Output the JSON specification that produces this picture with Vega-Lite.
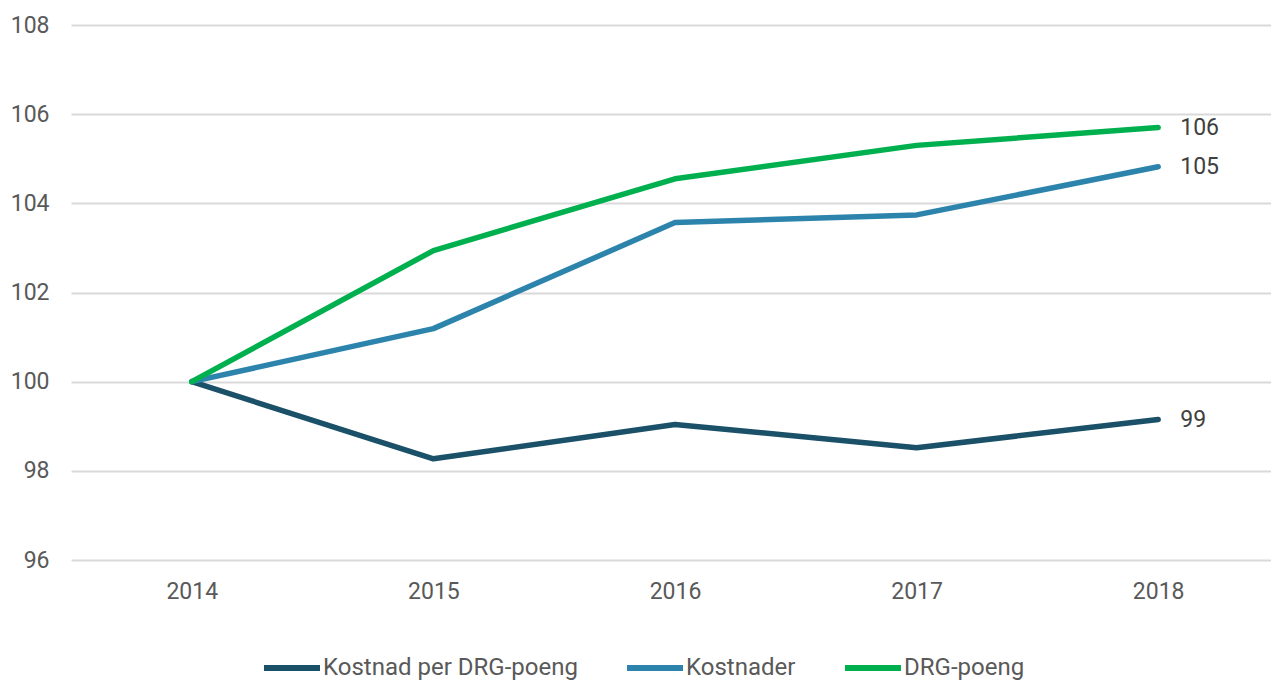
{
  "$schema": "https://vega.github.io/schema/vega-lite/v6.json",
  "width": 1208,
  "height": 535,
  "autosize": {"type": "none"},
  "padding": {"left": 71, "top": 25, "right": 0, "bottom": 120},
  "background": "white",
  "config": {
    "view": {"stroke": null},
    "font": "Roboto",
    "axis": {"labelFont": "Roboto", "labelColor": "#595959", "labelFontSize": 23, "domain": false, "ticks": false, "title": null, "gridColor": "#d9d9d9", "gridWidth": 2}
  },
  "data": {
    "values": [
      {"year": "2014", "series": "Kostnad per DRG-poeng", "value": 100},
      {"year": "2015", "series": "Kostnad per DRG-poeng", "value": 98.27},
      {"year": "2016", "series": "Kostnad per DRG-poeng", "value": 99.04},
      {"year": "2017", "series": "Kostnad per DRG-poeng", "value": 98.52},
      {"year": "2018", "series": "Kostnad per DRG-poeng", "value": 99.15, "label": "99"},
      {"year": "2014", "series": "Kostnader", "value": 100},
      {"year": "2015", "series": "Kostnader", "value": 101.19},
      {"year": "2016", "series": "Kostnader", "value": 103.57},
      {"year": "2017", "series": "Kostnader", "value": 103.74},
      {"year": "2018", "series": "Kostnader", "value": 104.82, "label": "105"},
      {"year": "2014", "series": "DRG-poeng", "value": 100},
      {"year": "2015", "series": "DRG-poeng", "value": 102.94},
      {"year": "2016", "series": "DRG-poeng", "value": 104.55},
      {"year": "2017", "series": "DRG-poeng", "value": 105.3},
      {"year": "2018", "series": "DRG-poeng", "value": 105.7, "label": "106"}
    ]
  },
  "encoding": {
    "x": {"field": "year", "type": "ordinal", "scale": {"type": "point", "padding": 0.5}, "axis": {"labelAngle": 0, "labelPadding": 20, "grid": false}},
    "y": {"field": "value", "type": "quantitative", "scale": {"domain": [96, 108], "nice": false, "zero": false}, "axis": {"values": [96, 98, 100, 102, 104, 106, 108], "labelPadding": 22, "grid": true}}
  },
  "layer": [
    {
      "mark": {"type": "line", "strokeWidth": 5.5, "strokeCap": "round", "strokeJoin": "round"},
      "encoding": {
        "color": {
          "field": "series", "type": "nominal",
          "sort": ["Kostnad per DRG-poeng", "Kostnader", "DRG-poeng"],
          "scale": {"domain": ["Kostnad per DRG-poeng", "Kostnader", "DRG-poeng"], "range": ["#1a5068", "#2c84ac", "#00b04f"]},
          "legend": {
            "title": null, "orient": "none", "direction": "horizontal", "legendX": 190, "legendY": 612,
            "symbolType": "stroke", "symbolSize": 3136, "symbolStrokeWidth": 6, "labelFont": "Roboto", "labelFontSize": 24, "labelColor": "#595959",
            "labelOffset": 0, "labelLimit": 400, "columnPadding": 37, "symbolOffset": 0
          }
        }
      }
    },
    {
      "mark": {"type": "text", "align": "left", "dx": 22, "fontSize": 23, "color": "#404040", "font": "Roboto"},
      "transform": [{"filter": "datum.label != null"}],
      "encoding": {"text": {"field": "label"}}
    }
  ]
}
